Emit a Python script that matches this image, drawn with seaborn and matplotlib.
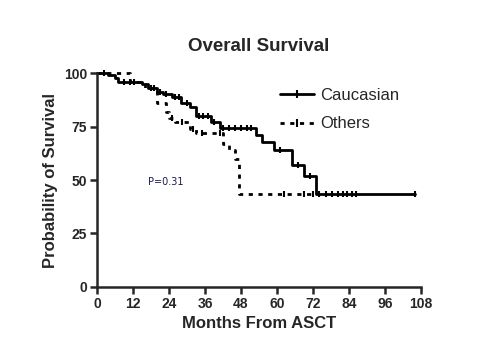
import numpy as np
import pandas as pd
import seaborn as sns
import matplotlib.pyplot as plt
from matplotlib.lines import Line2D

# Kaplan-Meier steps (months, % surviving)
cauc_time = [0, 3.7, 6, 7, 15, 17, 20, 22, 25, 28, 31, 33, 38, 41, 53, 55, 59, 65, 69, 73]
cauc_surv = [100, 99, 97.7, 96, 95, 93, 91, 90, 88.8, 86, 84, 80, 77, 74.5, 71, 68, 64, 57, 52, 43.5]
cauc_end = 106
cauc_cens = [2.5, 9, 11, 12.5, 18, 19, 21, 23, 26, 27.5, 30, 34, 35.5, 37, 39, 42, 44, 46,
             48, 50, 51.5, 61, 67, 71, 74, 76.5, 78.5, 80.5, 82, 83.5, 85, 86.5, 106]

oth_time = [0, 11, 16, 19, 20, 23, 24, 26, 31, 33, 42, 44, 46, 47.5]
oth_surv = [100, 96, 93, 91, 86, 82, 79, 77, 74, 72, 67, 64, 60, 43.5]
oth_end = 72
oth_cens = [25, 28.5, 32, 35, 41, 62.5, 69, 72]

x_ticks = [0, 12, 24, 36, 48, 60, 72, 84, 96, 108]
y_ticks = [0, 25, 50, 75, 100]


def step_df(times, surv, end, group):
    t = list(times) + [end]
    s = list(surv) + [surv[-1]]
    return pd.DataFrame({"Months": t, "Survival": s, "Group": group})


def surv_at(times, surv, pts):
    idx = np.searchsorted(times, pts, side="right") - 1
    return np.array(surv)[idx]


sns.set_style("ticks")
plt.rcParams["font.family"] = ["Liberation Sans", "DejaVu Sans"]

fig = plt.figure(figsize=(4.8, 3.6), dpi=100)
ax = fig.add_axes([0.202, 0.203, 0.675, 0.594])

cauc_df = step_df(cauc_time, cauc_surv, cauc_end, "Caucasian")
oth_df = step_df(oth_time, oth_surv, oth_end, "Others")

sns.lineplot(data=cauc_df, x="Months", y="Survival", drawstyle="steps-post", sort=False,
             estimator=None, color="black", lw=2, clip_on=False, ax=ax)
sns.lineplot(data=oth_df, x="Months", y="Survival", drawstyle="steps-post", sort=False,
             estimator=None, color="black", lw=2, linestyle=(0, (1.5, 2)), clip_on=False, ax=ax)

# censor ticks
sns.scatterplot(x=cauc_cens, y=surv_at(cauc_time, cauc_surv, cauc_cens), marker="|",
                s=25, color="black", linewidth=1.5, clip_on=False, ax=ax)
sns.scatterplot(x=oth_cens, y=surv_at(oth_time, oth_surv, oth_cens), marker="|",
                s=25, color="black", linewidth=1.5, clip_on=False, ax=ax)

ax.set_xlim(0, 108)
ax.set_ylim(0, 100)
ax.set_xticks(x_ticks)
ax.set_yticks(y_ticks)
for lab in ax.get_xticklabels() + ax.get_yticklabels():
    lab.set_fontweight("bold")
ax.tick_params(width=1.8, length=5, labelsize=10, pad=2)
sns.despine(ax=ax)
for sp in ["left", "bottom"]:
    ax.spines[sp].set_linewidth(1.8)

ax.set_xlabel("Months From ASCT", fontsize=12, fontweight="bold")
ax.set_ylabel("Probability of Survival", fontsize=12, fontweight="bold")
ax.set_title("Overall Survival", fontsize=13.5, fontweight="bold", pad=16)

handles = [Line2D([], [], color="black", lw=2, marker="|", markersize=6, mew=1.5),
           Line2D([], [], color="black", lw=2, linestyle=(0, (1.5, 2)), marker="|",
                  markersize=6, mew=1.5)]
ax.legend(handles, ["Caucasian", "Others"], loc="upper left", bbox_to_anchor=(0.52, 1.0),
          frameon=False, fontsize=12, handlelength=2.0, handletextpad=0.4, labelspacing=0.8)

ax.text(17, 47.5, "P=0.31", fontsize=7, color="#1a1a50", family="DejaVu Sans")

fig.savefig("out.png", dpi=100)
